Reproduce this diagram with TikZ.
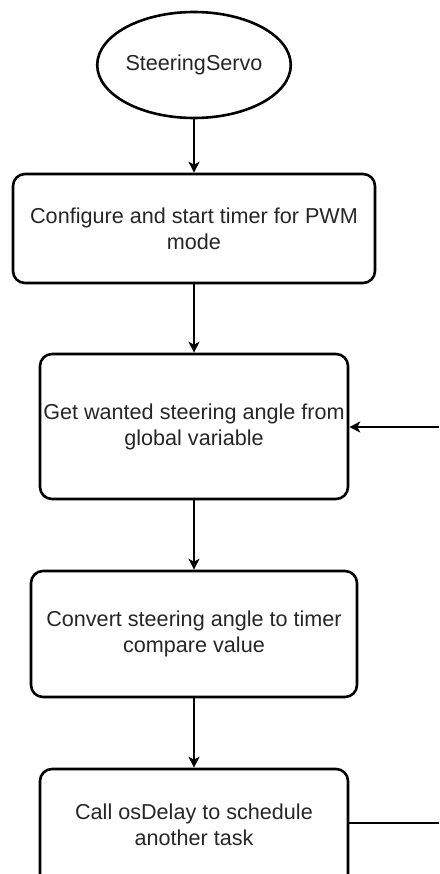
\documentclass[tikz,border=0pt]{standalone}
\usepackage{fontspec}
\setmainfont{Liberation Sans}
\usetikzlibrary{arrows.meta,shapes.geometric}
\tikzset{
  stepfont/.style={text=black!85, font=\fontsize{21.6}{26}\selectfont, align=center},
  stepbox/.style={draw=black, line width=2.6pt, rounded corners=12pt, fill=white,
    inner sep=0pt, stepfont},
  startnode/.style={ellipse, draw=black, line width=2.6pt, fill=white, inner sep=0pt,
    stepfont},
  flow/.style={draw=black, line width=1.5pt,
    -{Stealth[length=11pt,width=11pt,inset=3pt]}},
  plain/.style={draw=black, line width=1.5pt}
}
\begin{document}
\begin{tikzpicture}[x=1pt,y=-1pt]
  \useasboundingbox (0,0) rectangle (439,874);
  \clip (0,0) rectangle (439,874);
  \fill[white] (0,0) rectangle (439,874);

  % process steps
  \node[startnode, minimum width=182pt, minimum height=106pt] (start) at (194,65) {SteeringServo};
  \node[stepbox, minimum width=362pt, minimum height=109pt] (cfg) at (194,228.5)
    {Configure and start timer for PWM\\mode};
  \node[stepbox, minimum width=308pt, minimum height=145pt] (get) at (194,426.5)
    {Get wanted steering angle from\\global variable};
  \node[stepbox, minimum width=326pt, minimum height=126pt] (conv) at (194,634)
    {Convert steering angle to timer\\compare value};
  % the last step runs past the lower edge of the page
  \node[stepbox, minimum width=308pt, minimum height=130pt] (delay) at (194,834) {};
  \node[stepfont, inner sep=0pt] (delaytext) at (194,825)
    {Call osDelay to schedule\\another task};

  % loop-back ends at the right edge
  \coordinate (loopin) at (439,427);
  \coordinate (loopout) at (439,823);

  % connectors
  \draw[flow] (start) -- (cfg);
  \draw[flow] (cfg) -- (get);
  \draw[flow] (get) -- (conv);
  \draw[flow] (conv) -- (delay);
  \draw[flow] (loopin) -- (get.east |- loopin);
  \draw[plain] (delay.east |- loopout) -- (loopout);
\end{tikzpicture}
\end{document}
